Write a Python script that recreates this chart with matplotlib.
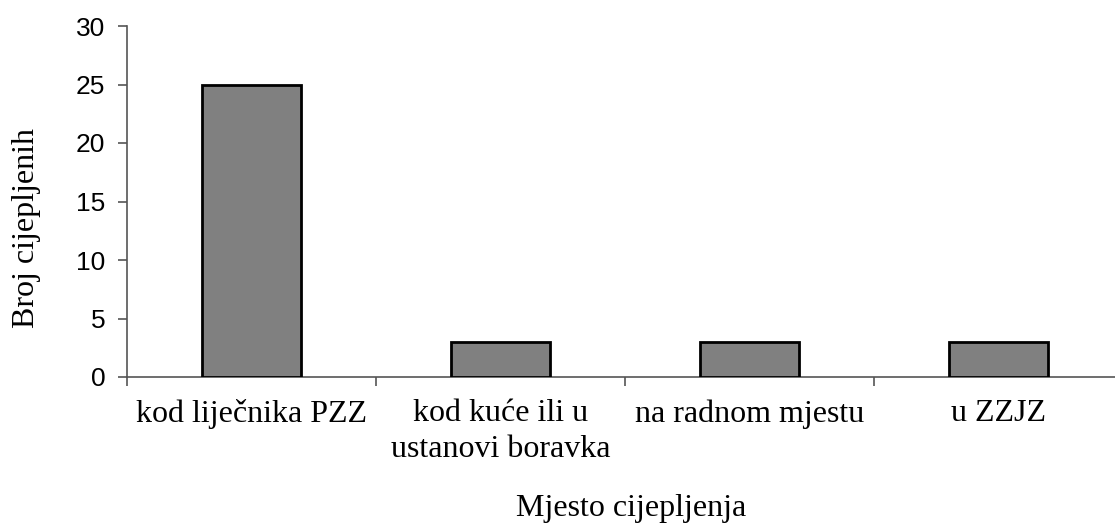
import numpy as np
import matplotlib.pyplot as plt

categories = ['kod liječnika PZZ', 'kod kuće ili u\nustanovi boravka', 'na radnom mjestu', 'u ZZJZ']
counts = [25, 3, 3, 3]
yticks = [0, 5, 10, 15, 20, 25, 30]

serif = ['Liberation Serif', 'DejaVu Serif']
sans = ['Liberation Sans', 'DejaVu Sans']

fig = plt.figure(figsize=(11.15, 5.27), dpi=100)
W, H = 1115, 527
ax = fig.add_axes([127 / W, 1 - 377 / H, 996 / W, (377 - 26) / H])

x = np.arange(len(categories))
ax.bar(x, counts, width=0.4, color='#808080', edgecolor='black', linewidth=2, zorder=3)

ax.set_xlim(-0.5, len(categories) - 0.5)
ax.set_ylim(0, 30)
ax.set_yticks(yticks)
ax.set_yticklabels([str(t) for t in yticks], family=sans, fontsize=19)

# ticks on the category boundaries, labels at the centres
ax.set_xticks(np.arange(len(categories) + 1) - 0.5)
ax.set_xticklabels([])
ax.set_xticks(x, minor=True)
ax.set_xticklabels(categories, minor=True, family=serif, fontsize=23, linespacing=1.3)
ax.tick_params(axis='x', which='minor', length=0, pad=16)
ax.tick_params(axis='x', which='major', length=6.5, color='#555555', width=1.2)
ax.tick_params(axis='y', length=6.5, color='#555555', width=1.2, pad=9)

for s in ['top', 'right']:
    ax.spines[s].set_visible(False)
for s in ['left', 'bottom']:
    ax.spines[s].set_color('#555555')
    ax.spines[s].set_linewidth(1.2)

fig.text(27 / W, 1 - 228 / H, 'Broj cijepljenih', family=serif, fontsize=23,
         rotation=90, ha='center', va='center')
fig.text(631 / W, 1 - 516 / H, 'Mjesto cijepljenja', family=serif, fontsize=23,
         ha='center', va='baseline')

fig.savefig('out.png', dpi=100)
